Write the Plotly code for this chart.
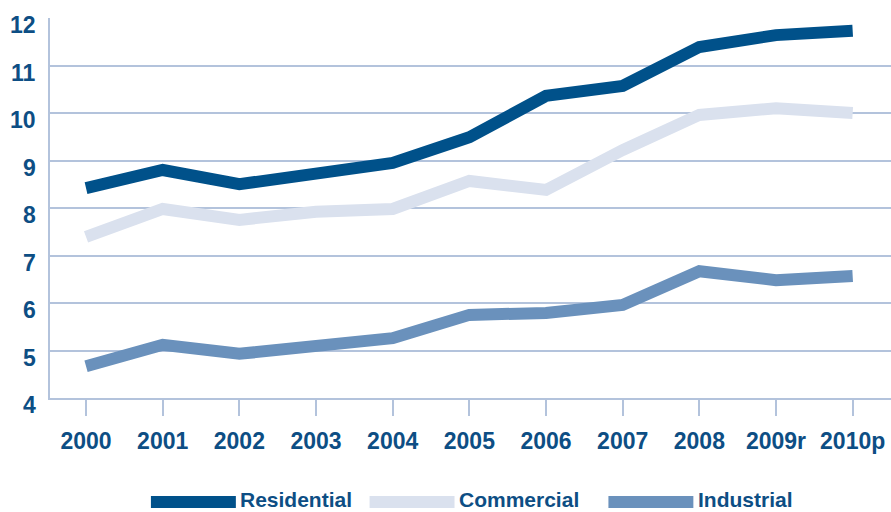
import plotly.graph_objects as go

years = ["2000", "2001", "2002", "2003", "2004", "2005", "2006", "2007", "2008", "2009r", "2010p"]
residential = [8.42, 8.80, 8.50, 8.72, 8.95, 9.49, 10.36, 10.57, 11.39, 11.64, 11.73]
commercial = [7.39, 7.98, 7.75, 7.92, 7.98, 8.57, 8.38, 9.22, 9.96, 10.10, 10.00]
industrial = [4.67, 5.12, 4.93, 5.09, 5.26, 5.75, 5.79, 5.96, 6.67, 6.48, 6.57]

series_names = ["Residential", "Commercial", "Industrial"]
series_colors = ["#00518A", "#DAE1EE", "#6A91BC"]
y_ticks = [4, 5, 6, 7, 8, 9, 10, 11, 12]

FONT = "Liberation Sans Narrow, Arial Narrow, Liberation Sans, sans-serif"
TEXT_COLOR = "#0D4E84"
GRID_COLOR = "#B3C3DC"

fig = go.Figure()
for name, vals, color in zip(series_names, [residential, commercial, industrial], series_colors):
    fig.add_trace(go.Scatter(
        x=years, y=vals, mode="lines", name=name,
        line=dict(color=color, width=12), showlegend=False,
    ))

# Y tick labels sit just below their gridlines
for v in y_ticks:
    fig.add_annotation(xref="paper", yref="y", x=0, y=v,
                       text=f"<b>{v}</b>", showarrow=False,
                       xanchor="right", yanchor="middle",
                       xshift=-12, yshift=-7,
                       font=dict(family=FONT, size=23, color=TEXT_COLOR))

# Custom legend along the bottom: long line swatch + label
legend_x = [0.120, 0.380, 0.664]
for name, color, x0 in zip(series_names, series_colors, legend_x):
    fig.add_shape(type="line", xref="paper", yref="paper",
                  x0=x0, x1=x0 + 0.101, y0=-0.274, y1=-0.274,
                  line=dict(color=color, width=12))
    fig.add_annotation(xref="paper", yref="paper", x=x0 + 0.104, y=-0.266,
                       text=f"<b>{name}</b>", showarrow=False,
                       xanchor="left", yanchor="middle",
                       font=dict(family=FONT, size=21, color=TEXT_COLOR))

fig.update_layout(
    width=891, height=512,
    margin=dict(l=50, r=0, t=18, b=114),
    paper_bgcolor="white", plot_bgcolor="white",
    font=dict(family=FONT, color=TEXT_COLOR),
)
fig.update_xaxes(
    type="category", range=[-0.47, 10.5],
    showgrid=False, showline=True, linecolor=GRID_COLOR, linewidth=2,
    ticks="outside", ticklen=16, tickwidth=2, tickcolor=GRID_COLOR,
    ticklabelstandoff=5,
    tickfont=dict(family=FONT, size=23, color=TEXT_COLOR),
    tickvals=years, ticktext=[f"<b>{y}</b>" for y in years],
)
fig.update_yaxes(
    range=[4, 12], tickvals=y_ticks, showticklabels=False,
    showgrid=True, gridcolor=GRID_COLOR, gridwidth=2,
    showline=True, linecolor=GRID_COLOR, linewidth=2,
    zeroline=False, ticks="",
)

fig.write_html("out.html")
